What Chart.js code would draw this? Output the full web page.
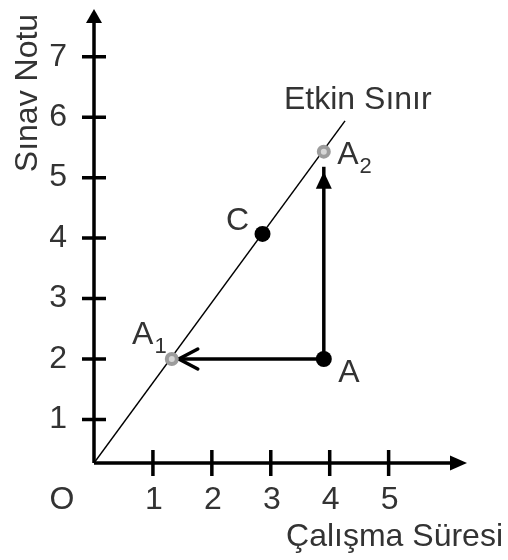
<!DOCTYPE html>
<html>
<head>
<meta charset="utf-8">
<script src="https://cdn.jsdelivr.net/npm/chart.js@4.4.1/dist/chart.umd.min.js"></script>
<style>
  body { margin: 0; background: #fff; }
  #kutu { width: 508px; height: 560px; }
</style>
</head>
<body>
<div id="kutu"><canvas id="grafik"></canvas></div>
<script>
// eksen etiketleri
const xTicks = [1, 2, 3, 4, 5];
const yTicks = [1, 2, 3, 4, 5, 6, 7];

// etkin sınır doğrusu (çalışma süresi -> sınav notu)
const sinirX = [0, 4.26];
const sinirY = [0.28, 5.94];

// siyah noktalar
const siyahAd = ["A", "C"];
const siyahX = [3.9, 2.86];
const siyahY = [2.0, 4.07];

// sınır üzerindeki gri noktalar
const griAd = ["A1", "A2"];
const griX = [1.32, 3.9];
const griY = [2.0, 5.43];

const YAZI = "'Liberation Sans', Arial, sans-serif";
const RENK = "#333";
const BOY = 32;

function nokta(adlar, xs, ys) {
    return adlar.map((ad, i) => ({ x: xs[i], y: ys[i], ad: ad }));
}

const siyah = nokta(siyahAd, siyahX, siyahY);
const gri = nokta(griAd, griX, griY);
const A = siyah[0];

// etiketlerin noktaya göre yeri: [yatay merkez, taban çizgisi]
const etiketYeri = { A: [25, 23], C: [-25, -4], A1: [-29, -15], A2: [24, 12] };

function ucgen(ctx, x1, y1, x2, y2, x3, y3) {
    ctx.beginPath();
    ctx.moveTo(x1, y1);
    ctx.lineTo(x2, y2);
    ctx.lineTo(x3, y3);
    ctx.closePath();
    ctx.fill();
}

const eksenler = {
    id: "eksenler",
    beforeDatasetsDraw(chart) {
        const { ctx, scales: { x, y } } = chart;
        const x0 = x.getPixelForValue(x.min);
        const y0 = y.getPixelForValue(y.min);
        const xSon = x.getPixelForValue(x.max);
        const ySon = y.getPixelForValue(y.max);
        ctx.save();
        ctx.strokeStyle = "#000";
        ctx.fillStyle = "#000";
        ctx.lineWidth = 3.5;
        ctx.beginPath();
        ctx.moveTo(x0, y0);
        ctx.lineTo(x0, ySon + 12);
        ctx.moveTo(x0, y0);
        ctx.lineTo(xSon - 12, y0);
        ctx.stroke();
        // ok uçları
        ucgen(ctx, x0, ySon, x0 - 8, ySon + 14, x0 + 8, ySon + 14);
        ucgen(ctx, xSon, y0, xSon - 17, y0 - 7.5, xSon - 17, y0 + 7.5);

        // çentikler
        ctx.beginPath();
        yTicks.forEach((v) => {
            const py = y.getPixelForValue(v);
            ctx.moveTo(x0 - 12, py);
            ctx.lineTo(x0 + 12, py);
        });
        xTicks.forEach((v) => {
            const px = x.getPixelForValue(v);
            ctx.moveTo(px, y0 - 13);
            ctx.lineTo(px, y0 + 13);
        });
        ctx.stroke();

        ctx.fillStyle = RENK;
        ctx.font = BOY + "px " + YAZI;
        ctx.textAlign = "right";
        ctx.textBaseline = "middle";
        yTicks.forEach((v) => ctx.fillText(String(v), x0 - 27, y.getPixelForValue(v)));
        ctx.textAlign = "center";
        ctx.textBaseline = "alphabetic";
        xTicks.forEach((v) => ctx.fillText(String(v), x.getPixelForValue(v) + 1, y0 + 46));
        ctx.fillText("O", x0 - 32, y0 + 46);

        // eksen başlıkları
        ctx.textAlign = "right";
        ctx.fillText("Çalışma Süresi", 503, y0 + 83);
        ctx.save();
        ctx.translate(37, 93);
        ctx.rotate(-Math.PI / 2);
        ctx.textAlign = "center";
        ctx.fillText("Sınav Notu", 0, 0);
        ctx.restore();
        ctx.restore();
    },
    afterDatasetDraw(chart, args) {
        const { ctx, scales: { x, y } } = chart;
        const ds = chart.data.datasets[args.index];
        if (!ds.okUcu) return;
        const hedef = ds.data[1];
        const px = x.getPixelForValue(hedef.x);
        const py = y.getPixelForValue(hedef.y);
        ctx.save();
        ctx.strokeStyle = "#000";
        ctx.fillStyle = "#000";
        ctx.lineWidth = 3.5;
        ctx.lineCap = "round";
        if (ds.okUcu === "acik") {
            // sola bakan açık ok
            const ux = px + 7;
            ctx.beginPath();
            ctx.moveTo(ux + 19, py - 10);
            ctx.lineTo(ux, py);
            ctx.lineTo(ux + 19, py + 10);
            ctx.stroke();
        } else {
            // yukarı bakan dolu ok
            const uy = py + 5;
            ucgen(ctx, px, uy, px - 8, uy + 17, px + 8, uy + 17);
        }
        ctx.restore();
    },
    afterDatasetsDraw(chart) {
        const { ctx, scales: { x, y } } = chart;
        ctx.save();
        ctx.fillStyle = RENK;
        // doğrunun adı
        ctx.font = BOY + "px " + YAZI;
        ctx.textAlign = "left";
        ctx.textBaseline = "alphabetic";
        const sx = x.getPixelForValue(sinirX[1]);
        const sy = y.getPixelForValue(sinirY[1]);
        ctx.fillText("Etkin Sınır", sx - 61, sy - 12);

        // nokta adları (alt indisli)
        siyah.concat(gri).forEach((p) => {
            const px = x.getPixelForValue(p.x);
            const py = y.getPixelForValue(p.y);
            const [dx, dy] = etiketYeri[p.ad];
            const harf = p.ad[0];
            const indis = p.ad.slice(1);
            ctx.font = BOY + "px " + YAZI;
            ctx.textAlign = "center";
            ctx.fillText(harf, px + dx, py + dy);
            if (indis) {
                const w = ctx.measureText(harf).width;
                ctx.font = "22px " + YAZI;
                ctx.textAlign = "left";
                ctx.fillText(indis, px + dx + w / 2 + 1, py + dy + 9);
            }
        });
        ctx.restore();
    }
};

new Chart(document.getElementById("grafik"), {
    type: "scatter",
    data: {
        datasets: [
            {
                label: "Sınır noktaları",
                data: gri,
                pointRadius: 5,
                pointBorderWidth: 4,
                pointBackgroundColor: "#d6d6d6",
                pointBorderColor: "#9c9c9c",
                order: 0
            },
            {
                label: "Noktalar",
                data: siyah,
                pointRadius: 8,
                pointBorderWidth: 0,
                pointBackgroundColor: "#000",
                order: 1
            },
            {
                label: "A -> A1",
                data: [A, gri[0]],
                showLine: true,
                borderColor: "#000",
                borderWidth: 3.5,
                pointRadius: 0,
                okUcu: "acik",
                order: 2
            },
            {
                label: "A -> A2",
                data: [A, { x: gri[1].x, y: gri[1].y - 0.25 }],
                showLine: true,
                borderColor: "#000",
                borderWidth: 3.5,
                pointRadius: 0,
                okUcu: "dolu",
                order: 2
            },
            {
                label: "Etkin Sınır",
                data: sinirX.map((v, i) => ({ x: v, y: sinirY[i] })),
                showLine: true,
                borderColor: "#000",
                borderWidth: 1.5,
                pointRadius: 0,
                order: 3
            }
        ]
    },
    options: {
        responsive: true,
        maintainAspectRatio: false,
        animation: false,
        events: [],
        layout: { padding: { left: 94, right: 41, top: 3, bottom: 97 } },
        plugins: { legend: { display: false }, tooltip: { enabled: false } },
        scales: {
            x: { type: "linear", display: false, min: 0, max: 6.33 },
            y: { type: "linear", display: false, min: 0.28, max: 7.79 }
        }
    },
    plugins: [eksenler]
});
</script>
</body>
</html>
